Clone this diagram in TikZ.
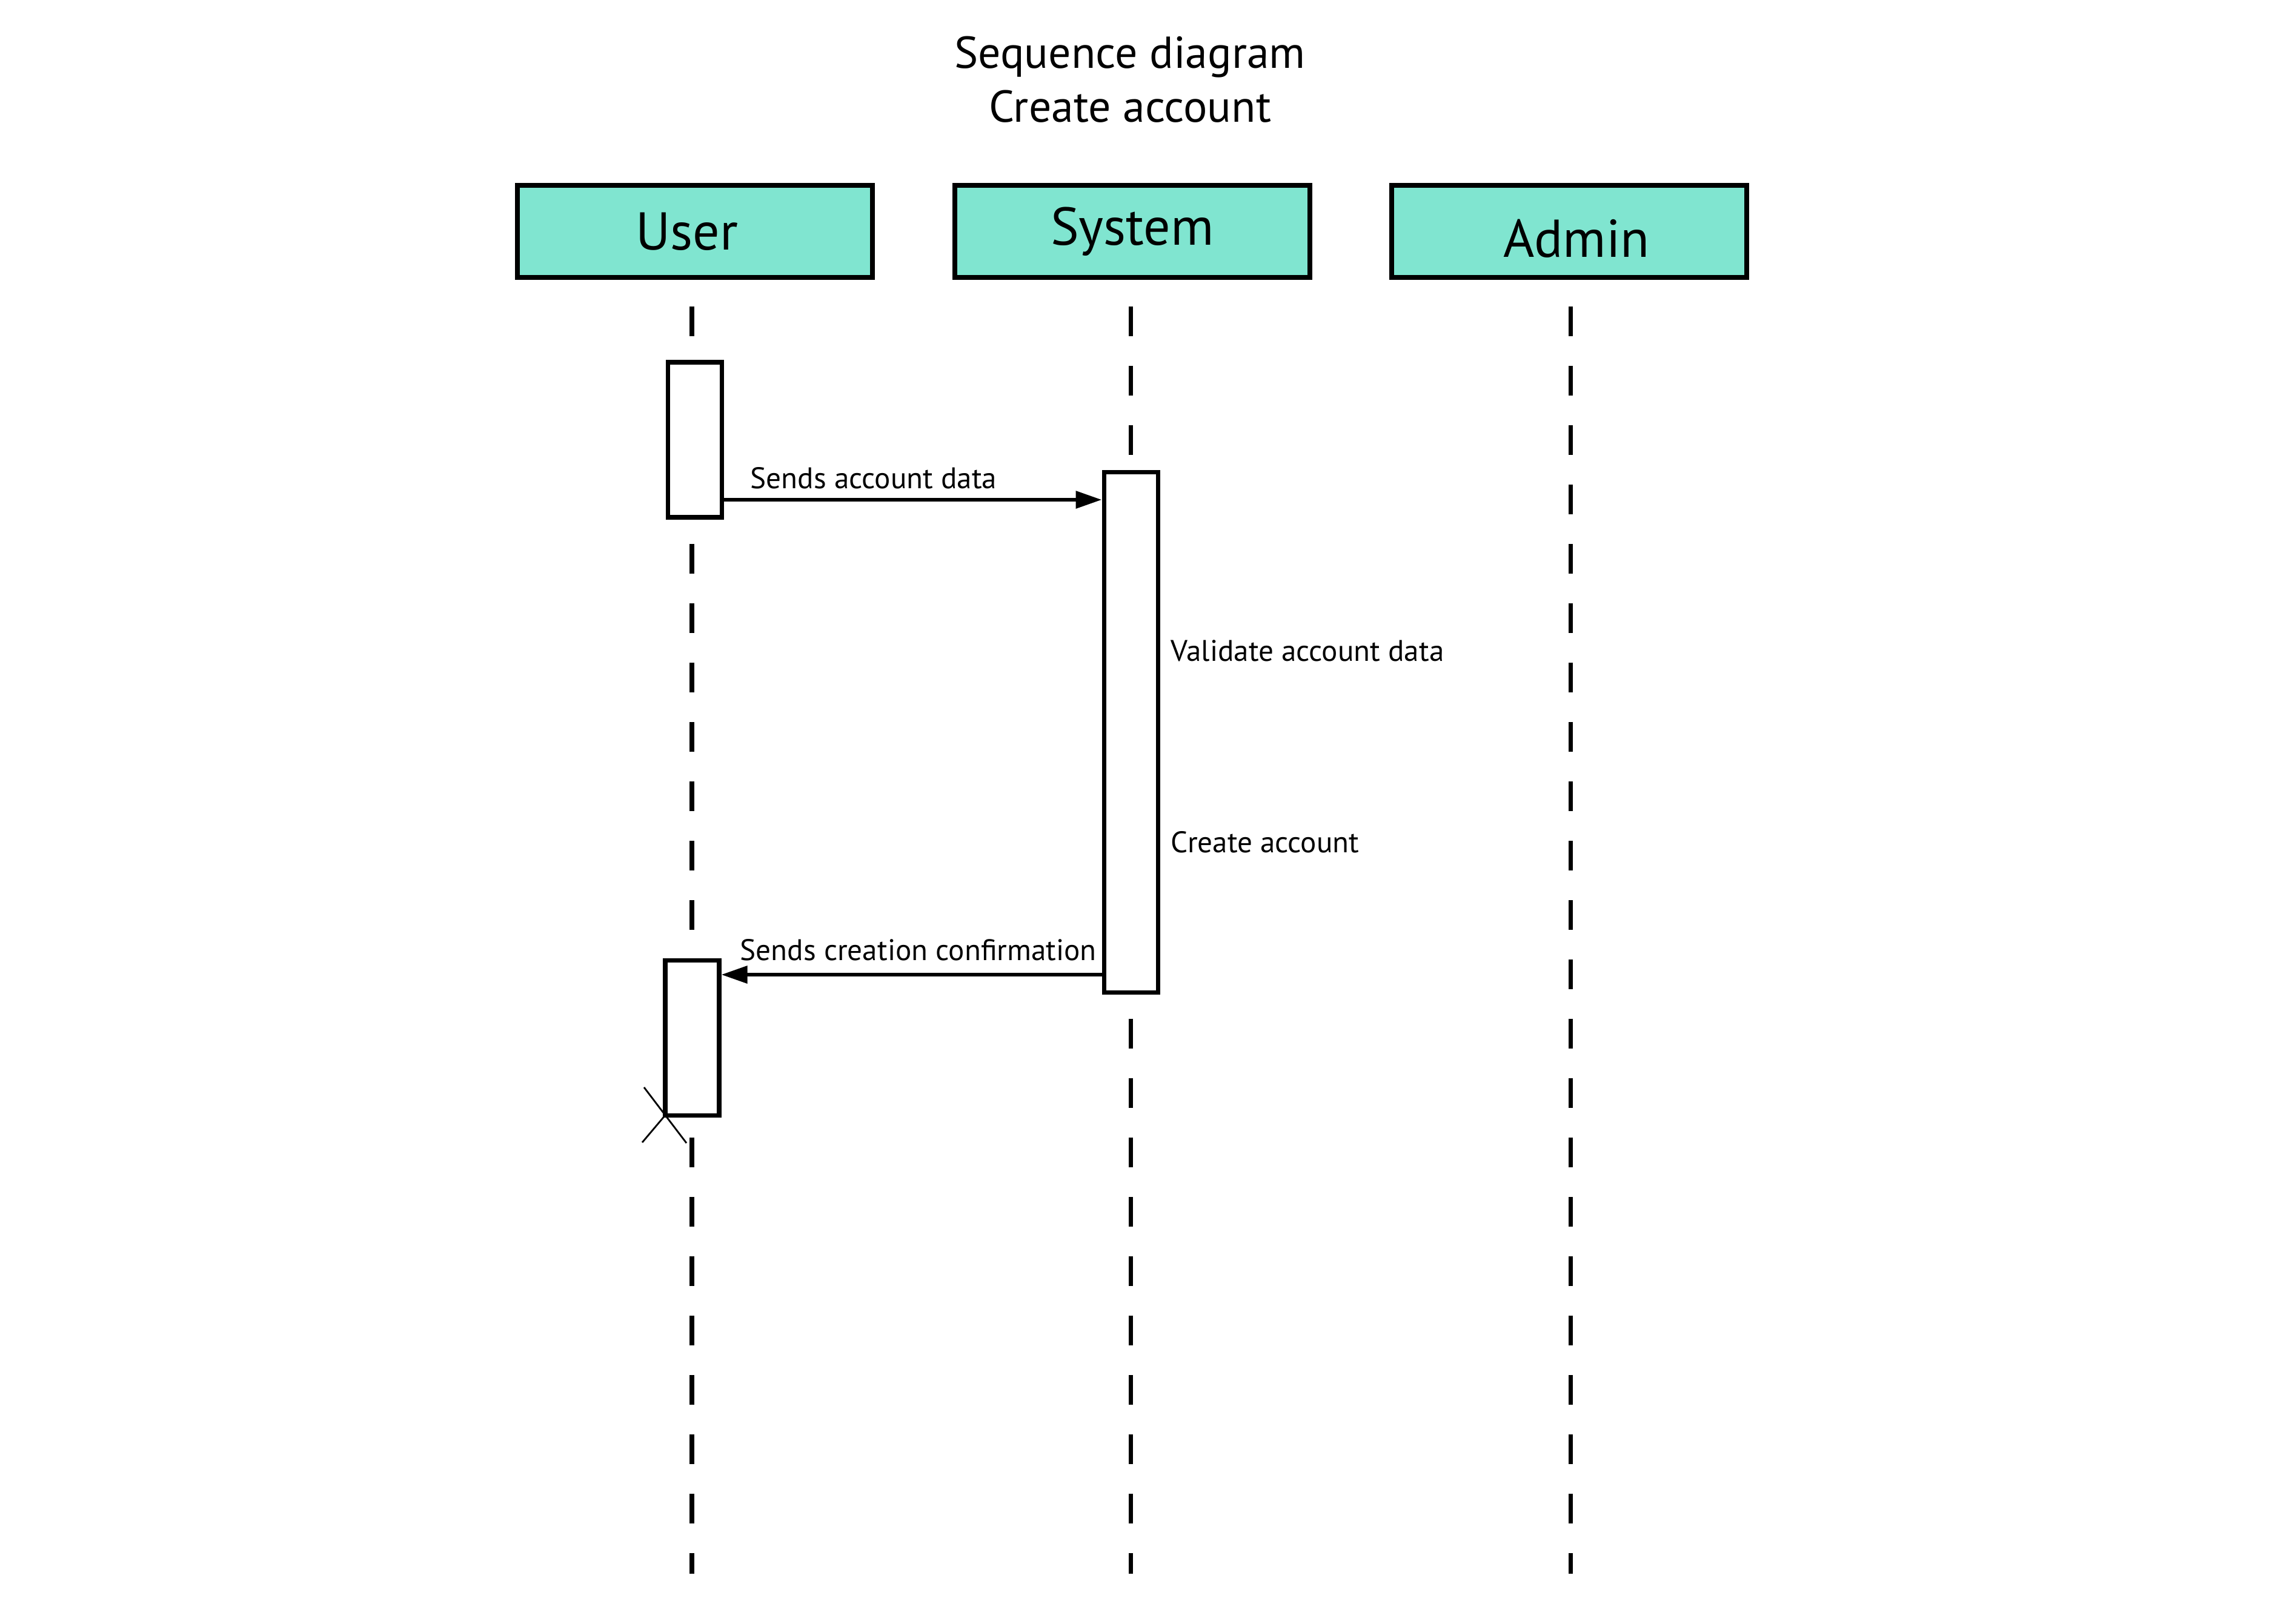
\documentclass[tikz,border=0pt]{standalone}
\usepackage{fontspec}
\setmainfont{PT Sans}
\usetikzlibrary{arrows.meta}
\definecolor{actorfill}{HTML}{80E5D0}

\begin{document}
\begin{tikzpicture}[
    actor/.style={draw, line width=2.2pt, fill=actorfill, minimum width=5.86cm, minimum height=1.52cm, inner sep=0pt, font=\fontsize{25}{29}\selectfont},
    lifeline/.style={line width=2pt, dash pattern=on 0.49cm off 0.49cm},
    activation/.style={draw, line width=2pt, fill=white, minimum width=0.89cm, inner sep=0pt},
    msg/.style={line width=1.8pt, -{Triangle[length=0.43cm, width=0.28cm]}},
    msglabel/.style={font=\fontsize{14}{16}\selectfont, anchor=west, inner sep=0pt}
]
    \useasboundingbox (0,0) rectangle (37.83,-26.81);

    % Title
    \node[font=\fontsize{21}{25.3}\selectfont, align=center] (title) at (18.65,-1.31) {Sequence diagram\\Create account};

    % Actors
    \node[actor] (user) at (11.47,-3.82) {\hspace*{-0.26cm}User};
    \node[actor] (system) at (18.69,-3.82) {System};
    \node[actor] (admin) at (25.90,-3.82) {\raisebox{-0.12cm}[\height][\depth]{\hspace*{0.24cm}Admin}};

    % Lifelines
    \coordinate (bottom) at (0,-25.98);
    \draw[lifeline] ([yshift=-0.44cm, xshift=-0.05cm]user.south) -- ([xshift=-0.05cm]user.south |- bottom);
    \draw[lifeline] ([yshift=-0.44cm, xshift=-0.03cm]system.south) -- ([xshift=-0.03cm]system.south |- bottom);
    \draw[lifeline] ([yshift=-0.44cm, xshift=0.02cm]admin.south) -- ([xshift=0.02cm]admin.south |- bottom);

    % Destruction
    \coordinate (kill) at (10.98,-18.41);
    \draw[line width=0.8pt] (kill) ++(-0.35,0.46) -- ++(0.70,-0.92);
    \draw[line width=0.8pt] (kill) ++(-0.38,-0.45) -- ++(0.76,0.90);

    % Activations
    \node[activation, minimum height=2.56cm] (act1) at (11.47,-7.26) {};
    \node[activation, minimum height=8.59cm] (actsys) at (18.665,-12.085) {};
    \node[activation, minimum height=2.56cm] (act2) at (11.425,-17.13) {};

    % Messages
    \coordinate (m1) at (0,-8.25);
    \coordinate (m2) at (0,-16.09);
    \draw[msg] (act1.east |- m1) -- (actsys.west |- m1);
    \draw[msg] (actsys.west |- m2) -- (act2.east |- m2);

    % Labels
    \node[msglabel] (l1) at (12.38,-7.89) {Sends account data};
    \node[msglabel] (l2) at (12.21,-15.68) {Sends creation confirmation};
    \node[msglabel] (l3) at (19.32,-10.74) {Validate account data};
    \node[msglabel] (l4) at (19.32,-13.90) {Create account};
\end{tikzpicture}
\end{document}
